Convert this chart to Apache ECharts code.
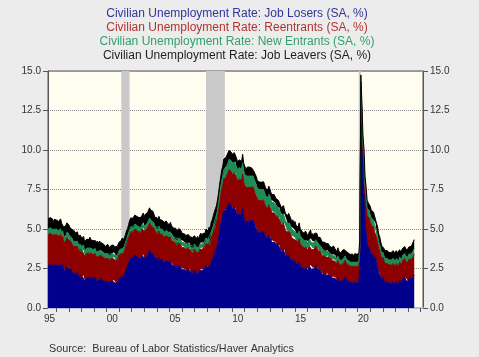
<!DOCTYPE html>
<html>
<head>
<meta charset="utf-8">
<script src="https://cdn.jsdelivr.net/npm/echarts@6/dist/echarts.min.js"></script>
<style>
html,body{margin:0;padding:0;background:#ececec;}
#chart{width:479px;height:357px;}
</style>
</head>
<body>
<div id="chart"></div>
<script>
// Monthly data, first point = May 1995, last point = Jul 2024
const startYear = 1995;
const startMonth = 5;

const titleLines = [
  'Civilian Unemployment Rate: Job Losers (SA, %)',
  'Civilian Unemployment Rate: Reentrants (SA, %)',
  'Civilian Unemployment Rate: New Entrants (SA, %)',
  'Civilian Unemployment Rate: Job Leavers (SA, %)'
];
const sourceText = 'Source:  Bureau of Labor Statistics/Haver Analytics';
const xLabelYears = [1995, 2000, 2005, 2010, 2015, 2020];
const recessions = [[2001.17, 2001.83], [2007.92, 2009.42], [2020.08, 2020.25]];

const jobLosers = [
  2.68,2.68,2.79,2.79,2.70,2.60,2.71,2.71,
  2.74,2.65,2.66,2.77,2.78,2.49,2.70,2.31,2.42,2.43,2.64,2.65,
  2.50,2.41,2.43,2.34,2.16,2.27,2.19,2.10,2.22,2.03,1.95,2.07,
  1.96,1.97,2.08,1.69,1.80,1.91,1.92,1.93,2.04,1.95,1.86,1.87,
  1.85,1.95,1.76,1.86,1.76,1.87,1.87,1.77,1.78,1.68,1.69,1.59,
  1.67,1.77,1.67,1.48,1.68,1.68,1.68,1.78,1.58,1.58,1.58,1.58,
  1.89,1.88,1.97,2.06,1.94,2.13,2.21,2.49,2.56,2.84,3.02,3.21,
  3.17,3.16,3.16,3.35,3.25,3.24,3.24,3.13,3.12,3.12,3.31,3.40,
  3.17,3.27,3.26,3.36,3.45,3.65,3.55,3.46,3.46,3.37,3.18,3.09,
  3.10,3.01,3.22,3.03,3.04,3.05,2.96,2.87,2.88,2.99,2.90,2.91,
  2.84,2.95,2.76,2.77,2.68,2.59,2.60,2.51,2.63,2.64,2.65,2.57,
  2.41,2.52,2.43,2.44,2.34,2.35,2.46,2.47,2.28,2.19,2.29,2.20,
  2.40,2.30,2.20,2.29,2.19,2.38,2.46,2.35,2.44,2.43,2.40,2.68,
  2.64,2.51,2.67,2.54,2.90,3.05,3.21,3.46,3.42,3.75,4.00,4.42,
  4.83,5.24,5.58,5.82,6.18,6.23,6.21,6.29,6.47,6.65,6.53,6.49,
  6.30,6.28,6.38,6.36,6.06,5.86,5.85,5.95,5.96,5.86,6.28,5.78,
  5.54,5.45,5.46,5.57,5.49,5.60,5.51,5.52,5.54,5.35,5.16,5.07,
  4.83,4.84,4.76,4.78,4.79,4.81,4.83,4.64,4.46,4.48,4.40,4.61,
  4.59,4.32,4.13,4.25,4.18,4.19,4.02,3.94,3.97,3.98,3.71,3.53,
  3.56,3.69,3.72,3.24,3.37,3.20,3.33,3.25,3.08,2.91,3.04,2.87,
  3.00,2.81,2.74,2.75,2.98,2.69,2.62,2.53,2.46,2.48,2.60,2.52,
  2.38,2.49,2.61,2.72,2.44,2.55,2.47,2.58,2.70,2.61,2.43,2.44,
  2.41,2.33,2.13,2.15,2.16,2.07,2.08,2.20,2.10,2.02,2.03,1.94,
  1.88,1.99,1.90,1.91,1.72,1.93,1.74,1.75,1.66,1.77,1.77,1.88,
  1.99,1.79,1.79,1.70,1.60,1.61,1.71,1.61,1.52,1.62,1.62,1.62,
  1.62,1.62,2.48,13.00,10.60,8.10,7.17,5.35,4.75,3.91,3.83,3.85,
  3.58,3.40,3.33,3.35,3.09,3.22,2.77,2.54,2.23,2.13,1.93,1.73,
  1.96,1.79,1.61,1.73,1.64,1.65,1.56,1.66,1.57,1.67,1.67,1.57,
  1.47,1.67,1.57,1.46,1.76,1.66,1.55,1.85,1.84,1.94,1.73,1.82,
  1.69,1.87,1.85,1.83,1.90,1.97,2.10
];

const reentrants = [
  1.95,1.95,1.94,1.94,1.93,1.93,1.92,1.92,
  1.91,1.90,1.89,1.88,1.87,1.86,1.85,1.84,1.83,1.82,1.81,1.80,
  1.79,1.78,1.76,1.75,1.73,1.72,1.70,1.69,1.67,1.66,1.64,1.62,
  1.61,1.60,1.59,1.58,1.57,1.56,1.55,1.54,1.53,1.52,1.51,1.50,
  1.50,1.50,1.49,1.49,1.49,1.48,1.48,1.48,1.47,1.47,1.46,1.46,
  1.46,1.46,1.46,1.45,1.45,1.45,1.45,1.45,1.45,1.45,1.45,1.45,
  1.46,1.47,1.48,1.49,1.50,1.51,1.53,1.55,1.57,1.59,1.61,1.62,
  1.63,1.64,1.64,1.65,1.65,1.66,1.66,1.67,1.68,1.68,1.69,1.70,
  1.70,1.70,1.71,1.71,1.72,1.72,1.72,1.71,1.71,1.70,1.69,1.68,
  1.67,1.66,1.65,1.64,1.63,1.62,1.61,1.60,1.59,1.58,1.57,1.56,
  1.55,1.54,1.53,1.52,1.51,1.50,1.49,1.48,1.46,1.45,1.44,1.42,
  1.41,1.40,1.39,1.38,1.38,1.37,1.36,1.35,1.34,1.33,1.33,1.32,
  1.32,1.32,1.32,1.33,1.33,1.34,1.35,1.36,1.37,1.38,1.40,1.42,
  1.44,1.46,1.48,1.50,1.53,1.56,1.59,1.62,1.65,1.69,1.73,1.78,
  1.84,1.89,1.93,1.97,2.00,2.03,2.05,2.07,2.09,2.11,2.13,2.15,
  2.16,2.17,2.18,2.19,2.20,2.20,2.21,2.21,2.21,2.21,2.20,2.20,
  2.19,2.18,2.17,2.16,2.15,2.14,2.13,2.12,2.11,2.10,2.09,2.08,
  2.07,2.06,2.04,2.03,2.02,2.00,1.99,1.98,1.96,1.95,1.93,1.92,
  1.91,1.89,1.88,1.86,1.84,1.83,1.81,1.79,1.77,1.76,1.74,1.72,
  1.70,1.68,1.66,1.64,1.62,1.60,1.58,1.56,1.54,1.52,1.50,1.48,
  1.46,1.45,1.43,1.42,1.40,1.39,1.37,1.36,1.34,1.33,1.31,1.30,
  1.29,1.28,1.27,1.26,1.25,1.24,1.23,1.22,1.21,1.20,1.19,1.18,
  1.17,1.16,1.16,1.15,1.14,1.14,1.13,1.12,1.12,1.11,1.10,1.10,
  1.09,1.09,1.08,1.08,1.07,1.07,1.06,1.06,1.05,1.05,1.05,1.04,
  1.04,1.04,1.04,1.03,1.03,1.03,1.03,1.03,1.02,1.02,1.02,1.02,
  1.02,1.02,1.05,1.05,1.60,1.85,1.95,1.95,1.95,1.90,1.88,1.86,
  1.84,1.82,1.80,1.78,1.75,1.72,1.68,1.62,1.55,1.48,1.40,1.33,
  1.26,1.23,1.21,1.19,1.18,1.17,1.16,1.16,1.15,1.15,1.15,1.15,
  1.15,1.15,1.15,1.16,1.16,1.16,1.17,1.17,1.18,1.18,1.19,1.20,
  1.21,1.22,1.23,1.24,1.25,1.27,1.30
];

const newEntrants = [
  0.35,0.36,0.35,0.34,0.35,0.36,0.35,0.34,
  0.35,0.36,0.34,0.35,0.36,0.35,0.34,0.35,0.36,0.35,0.34,0.35,
  0.33,0.34,0.33,0.32,0.34,0.33,0.32,0.33,0.34,0.33,0.32,0.33,
  0.32,0.33,0.31,0.32,0.33,0.32,0.31,0.32,0.33,0.32,0.31,0.32,
  0.31,0.32,0.30,0.31,0.32,0.31,0.30,0.31,0.32,0.31,0.30,0.31,
  0.30,0.31,0.29,0.30,0.31,0.30,0.29,0.30,0.31,0.30,0.29,0.30,
  0.30,0.30,0.30,0.30,0.31,0.31,0.31,0.31,0.32,0.32,0.32,0.32,
  0.32,0.33,0.31,0.32,0.33,0.32,0.31,0.32,0.33,0.32,0.31,0.32,
  0.33,0.34,0.32,0.33,0.34,0.33,0.32,0.33,0.34,0.33,0.32,0.33,
  0.33,0.34,0.32,0.33,0.34,0.33,0.32,0.33,0.34,0.33,0.32,0.33,
  0.33,0.32,0.34,0.33,0.32,0.33,0.34,0.33,0.32,0.33,0.34,0.33,
  0.32,0.33,0.31,0.32,0.33,0.32,0.31,0.32,0.33,0.32,0.31,0.32,
  0.32,0.32,0.32,0.32,0.32,0.32,0.33,0.33,0.33,0.33,0.34,0.34,
  0.35,0.36,0.37,0.38,0.39,0.40,0.41,0.42,0.43,0.45,0.46,0.48,
  0.50,0.53,0.55,0.57,0.59,0.61,0.62,0.63,0.64,0.65,0.66,0.68,
  0.69,0.70,0.70,0.71,0.71,0.71,0.72,0.72,0.72,0.72,0.72,0.72,
  0.72,0.72,0.72,0.72,0.71,0.71,0.71,0.71,0.70,0.70,0.70,0.70,
  0.70,0.70,0.70,0.69,0.69,0.69,0.68,0.68,0.68,0.67,0.67,0.67,
  0.67,0.66,0.66,0.66,0.65,0.65,0.64,0.64,0.63,0.63,0.62,0.62,
  0.61,0.60,0.59,0.59,0.58,0.57,0.56,0.56,0.55,0.54,0.53,0.52,
  0.51,0.51,0.50,0.50,0.49,0.49,0.48,0.48,0.47,0.46,0.46,0.45,
  0.45,0.45,0.44,0.44,0.43,0.43,0.42,0.42,0.41,0.41,0.40,0.40,
  0.39,0.38,0.38,0.37,0.37,0.36,0.36,0.35,0.35,0.34,0.34,0.33,
  0.33,0.32,0.32,0.31,0.31,0.30,0.30,0.29,0.29,0.28,0.28,0.28,
  0.27,0.27,0.27,0.27,0.27,0.26,0.26,0.26,0.26,0.26,0.26,0.26,
  0.26,0.26,0.27,0.25,0.35,0.45,0.48,0.48,0.48,0.47,0.47,0.47,
  0.46,0.46,0.45,0.45,0.44,0.44,0.43,0.42,0.40,0.38,0.36,0.34,
  0.32,0.32,0.32,0.32,0.32,0.32,0.32,0.32,0.32,0.32,0.32,0.32,
  0.32,0.32,0.32,0.32,0.32,0.32,0.32,0.32,0.32,0.32,0.32,0.32,
  0.33,0.33,0.34,0.34,0.35,0.36,0.38
];

const jobLeavers = [
  0.66,0.58,0.64,0.60,0.67,0.57,0.63,0.65,
  0.57,0.64,0.59,0.55,0.63,0.66,0.58,0.61,0.56,0.64,0.60,0.57,
  0.62,0.55,0.60,0.56,0.63,0.57,0.54,0.61,0.59,0.55,0.62,0.58,
  0.53,0.59,0.55,0.60,0.52,0.57,0.61,0.54,0.58,0.53,0.59,0.56,
  0.57,0.51,0.55,0.58,0.52,0.56,0.50,0.57,0.53,0.58,0.51,0.55,
  0.55,0.49,0.54,0.56,0.50,0.53,0.57,0.48,0.54,0.51,0.56,0.50,
  0.52,0.57,0.53,0.58,0.55,0.51,0.58,0.54,0.57,0.52,0.59,0.55,
  0.61,0.55,0.60,0.56,0.62,0.57,0.54,0.60,0.58,0.63,0.55,0.59,
  0.57,0.63,0.58,0.62,0.56,0.64,0.60,0.57,0.63,0.59,0.55,0.61,
  0.63,0.57,0.61,0.58,0.64,0.56,0.60,0.62,0.57,0.61,0.59,0.63,
  0.55,0.61,0.57,0.60,0.54,0.59,0.62,0.56,0.58,0.61,0.55,0.59,
  0.59,0.53,0.57,0.60,0.54,0.58,0.52,0.57,0.55,0.60,0.53,0.57,
  0.53,0.58,0.55,0.59,0.52,0.57,0.60,0.54,0.58,0.55,0.59,0.56,
  0.60,0.54,0.61,0.56,0.62,0.57,0.63,0.58,0.62,0.59,0.65,0.60,
  0.66,0.61,0.67,0.62,0.66,0.60,0.65,0.58,0.63,0.56,0.61,0.55,
  0.58,0.52,0.57,0.51,0.56,0.50,0.55,0.49,0.54,0.48,0.53,0.47,
  0.53,0.47,0.52,0.48,0.54,0.46,0.51,0.49,0.53,0.47,0.52,0.48,
  0.47,0.53,0.48,0.52,0.46,0.54,0.49,0.51,0.47,0.53,0.48,0.52,
  0.51,0.45,0.50,0.46,0.52,0.47,0.44,0.50,0.46,0.51,0.45,0.49,
  0.45,0.51,0.46,0.50,0.44,0.49,0.52,0.46,0.50,0.45,0.51,0.47,
  0.51,0.46,0.50,0.45,0.52,0.47,0.49,0.44,0.50,0.46,0.51,0.48,
  0.45,0.50,0.47,0.51,0.44,0.49,0.46,0.52,0.47,0.50,0.45,0.49,
  0.50,0.46,0.51,0.45,0.49,0.47,0.52,0.46,0.50,0.44,0.49,0.47,
  0.47,0.52,0.48,0.53,0.46,0.51,0.49,0.54,0.47,0.52,0.48,0.51,
  0.53,0.47,0.52,0.48,0.54,0.49,0.46,0.52,0.48,0.53,0.47,0.51,
  0.47,0.52,0.49,0.45,0.47,0.52,0.48,0.55,0.50,0.54,0.49,0.53,
  0.55,0.49,0.54,0.50,0.56,0.51,0.48,0.54,0.50,0.53,0.48,0.52,
  0.49,0.44,0.48,0.43,0.50,0.45,0.47,0.42,0.48,0.44,0.49,0.45,
  0.43,0.48,0.44,0.49,0.45,0.42,0.48,0.44,0.50,0.45,0.47,0.43,
  0.50,0.45,0.51,0.47,0.52,0.48,0.55
];

const seriesNames = ['Job Losers', 'Reentrants', 'New Entrants', 'Job Leavers'];
const seriesValues = [jobLosers, reentrants, newEntrants, jobLeavers];
const seriesColors = ['#00008c', '#8c0000', '#1e8c55', '#000000'];
const titleColors = ['#34349a', '#b03434', '#34a06e', '#1e1e1e'];

const n = Math.min(...seriesValues.map(a => a.length));
const months = [];
for (let i = 0; i < n; i++) months.push(startYear + (startMonth - 1 + i) / 12);

const FONT = '"Liberation Sans", Arial, sans-serif';
const chart = echarts.init(document.getElementById('chart'), null, {renderer: 'canvas'});

const series = [{
  type: 'line',
  data: [],
  silent: true,
  z: 1,
  markArea: {
    silent: true,
    itemStyle: {color: '#c9c9c9'},
    data: recessions.map(r => [{xAxis: r[0]}, {xAxis: r[1]}])
  }
}];
seriesValues.forEach((vals, k) => {
  series.push({
    name: seriesNames[k],
    type: 'line',
    stack: 'total',
    z: 3,
    symbol: 'none',
    sampling: null,
    lineStyle: {width: 1, color: seriesColors[k]},
    areaStyle: {color: seriesColors[k], opacity: 1},
    itemStyle: {color: seriesColors[k]},
    // rate first so the library stacks the rate dimension
    dimensions: [{name: 'rate', type: 'float'}, {name: 'year', type: 'float'}],
    encode: {x: 'year', y: 'rate'},
    data: months.map((t, i) => [vals[i], t])
  });
});

const graphics = titleLines.map((txt, i) => ({
  type: 'text',
  x: 237,
  y: 13.5 + i * 14.2,
  style: {
    text: txt,
    fill: titleColors[i],
    font: '12px ' + FONT,
    textAlign: 'center',
    textVerticalAlign: 'middle'
  }
}));
graphics.push({
  type: 'text',
  x: 49,
  y: 349,
  style: {
    text: sourceText,
    fill: '#333',
    font: '10.8px ' + FONT,
    textAlign: 'left',
    textVerticalAlign: 'middle'
  }
});

const yAxisBase = {
  type: 'value',
  min: 0,
  max: 15,
  interval: 2.5,
  axisLine: {show: true, lineStyle: {color: '#555', width: 1}},
  axisTick: {show: true, inside: false, length: 5, lineStyle: {color: '#555'}},
  axisLabel: {
    fontSize: 10, color: '#333', fontFamily: FONT, margin: 7,
    formatter: v => v.toFixed(1)
  }
};

const tickYears = [];
for (let y = 1996; y <= 2025; y++) tickYears.push(y);

chart.setOption({
  backgroundColor: '#ececec',
  animation: false,
  graphic: graphics,
  grid: {
    left: 48, right: 56, top: 71, bottom: 49,
    show: true,
    backgroundColor: '#fffcf0',
    borderColor: '#555',
    borderWidth: 1
  },
  xAxis: {
    type: 'value',
    min: 1995.33,
    max: 2025.2,
    axisLine: {show: true, onZero: false, lineStyle: {color: '#b9bde3', width: 2}},
    axisTick: {show: true, inside: false, length: 4, customValues: tickYears, lineStyle: {color: '#555'}},
    axisLabel: {
      customValues: xLabelYears.map(y => y + 0.45),
      fontSize: 10, color: '#333', fontFamily: FONT, margin: 6,
      formatter: v => String(Math.floor(v) % 100).padStart(2, '0')
    },
    splitLine: {show: false}
  },
  yAxis: [
    Object.assign({}, yAxisBase, {
      position: 'left',
      splitLine: {show: true, lineStyle: {color: '#8a8a8a', type: 'dotted', width: 1}}
    }),
    Object.assign({}, yAxisBase, {
      position: 'right',
      splitLine: {show: false}
    })
  ],
  series: series
});
</script>
</body>
</html>
